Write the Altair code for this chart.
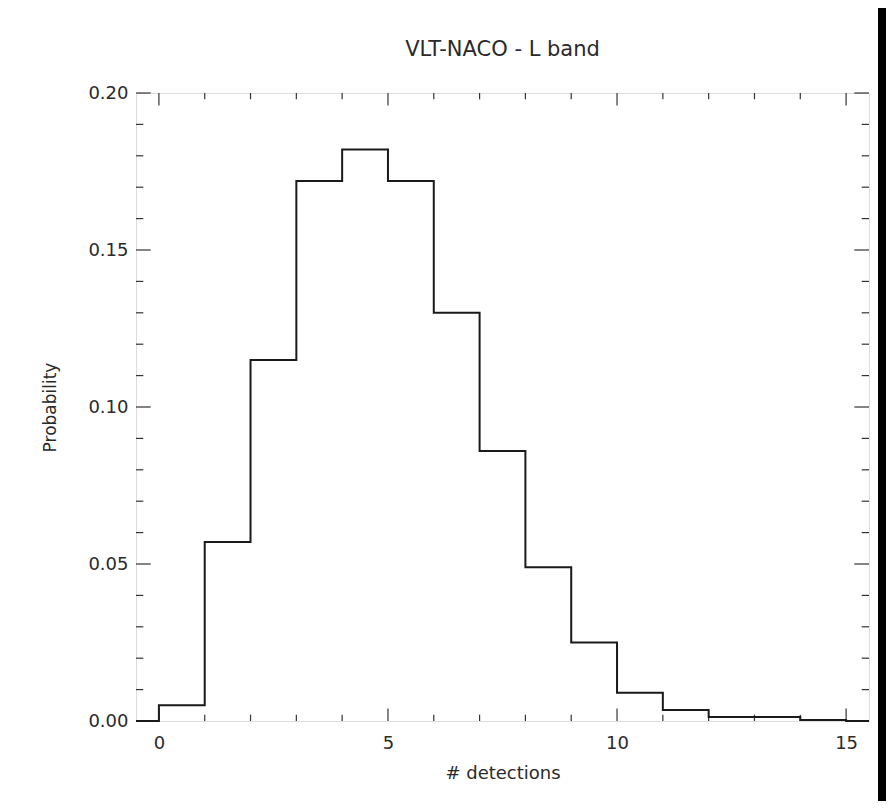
import altair as alt
import pandas as pd

# Histogram: number of detections vs probability (bins start at integers)
detections = list(range(0, 16))
probability = [0.005, 0.057, 0.115, 0.172, 0.182, 0.172, 0.130, 0.086,
               0.049, 0.025, 0.009, 0.0035, 0.0013, 0.0013, 0.0003, 0.0]

x_domain = [-0.5, 15.5]
y_domain = [0.0, 0.20]
x_major = [0, 5, 10, 15]
x_minor = [v for v in range(0, 16) if v not in x_major]
y_major = [0.0, 0.05, 0.10, 0.15, 0.20]
y_minor = [round(i * 0.01, 2) for i in range(0, 21) if i % 5 != 0]

W, H = 733, 628
INK = "#2a2a2a"
FONT = "DejaVu Sans"

# step line: pad with zero at the domain edges
hist = pd.DataFrame({
    "x": [x_domain[0]] + detections + [x_domain[1]],
    "y": [0.0] + probability + [0.0],
})

xs = alt.Scale(domain=x_domain, nice=False, zero=False)
ys = alt.Scale(domain=y_domain, nice=False, zero=False)

line = alt.Chart(hist).mark_line(
    interpolate="step-after", color="#1a1a1a", strokeWidth=2
).encode(
    x=alt.X("x:Q", scale=xs, axis=alt.Axis(
        values=x_major, format="d", ticks=False, domain=False, grid=False,
        labelFontSize=18, labelFont=FONT, labelColor=INK, labelPadding=13,
        title="# detections", titleFont=FONT, titleFontSize=18,
        titleFontWeight="normal", titleColor=INK,
        titleX=W / 2, titleY=52, titleAlign="center", titleBaseline="middle")),
    y=alt.Y("y:Q", scale=ys, axis=alt.Axis(
        values=y_major, format=".2f", ticks=False, domain=False, grid=False,
        labelFontSize=18, labelFont=FONT, labelColor=INK, labelPadding=8,
        title="Probability", titleFont=FONT, titleFontSize=17,
        titleFontWeight="normal", titleColor=INK,
        titleX=-86, titleY=H / 2, titleAlign="center", titleBaseline="middle",
        titleAngle=-90)),
)

def xticks(vals, ln):
    df = pd.DataFrame({"v": vals})
    base = alt.Chart(df)
    bottom = base.mark_rule(color="#333333", strokeWidth=1.2).encode(
        x=alt.X("v:Q", scale=xs), y=alt.value(H), y2=alt.value(H - ln))
    top = base.mark_rule(color="#333333", strokeWidth=1.2).encode(
        x=alt.X("v:Q", scale=xs), y=alt.value(0), y2=alt.value(ln))
    return [bottom, top]

def yticks(vals, ln):
    df = pd.DataFrame({"v": vals})
    base = alt.Chart(df)
    left = base.mark_rule(color="#333333", strokeWidth=1.2).encode(
        y=alt.Y("v:Q", scale=ys), x=alt.value(0), x2=alt.value(ln))
    right = base.mark_rule(color="#333333", strokeWidth=1.2).encode(
        y=alt.Y("v:Q", scale=ys), x=alt.value(W), x2=alt.value(W - ln))
    return [left, right]

# black frame strip on the right edge of the picture (decoration)
FRAME_TOP = 85
frame = alt.Chart(pd.DataFrame({"k": [0]})).mark_rect(
    color="black", clip=False
).encode(
    x=alt.value(W + 9), x2=alt.value(W + 17),
    y=alt.value(-FRAME_TOP), y2=alt.value(H + 80),
)

layers = (xticks(x_major, 12.5) + xticks(x_minor, 6.3)
          + yticks(y_major, 14.7) + yticks(y_minor, 7.3) + [line, frame])

chart = alt.layer(*layers).properties(
    width=W, height=H,
    title=alt.Title("VLT-NACO - L band", font=FONT, fontSize=21,
                    fontWeight="normal", color=INK, offset=33,
                    dy=FRAME_TOP, anchor="middle"),
    autosize=alt.AutoSizeParams(type="none"),
    padding={"left": 128, "top": 85, "right": 17, "bottom": 80},
).configure_view(
    stroke="#222222", strokeWidth=1.6, fill="white"
).configure(background="white")

chart.save("out.html", embed_options={"renderer": "svg", "actions": False})
